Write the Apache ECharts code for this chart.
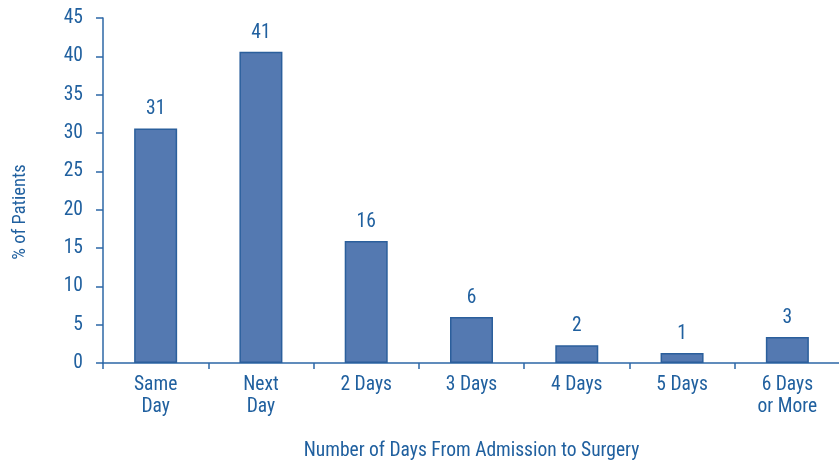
<!DOCTYPE html>
<html>
<head>
<meta charset="utf-8">
<script src="https://cdn.jsdelivr.net/npm/echarts@6/dist/echarts.min.js"></script>
<style>
  html, body { margin: 0; padding: 0; background: #ffffff; }
  #chart { width: 839px; height: 462px; }
</style>
</head>
<body>
<div id="chart"></div>
<script>
// Days from admission to surgery, share of patients (%)
const categories = ['Same\nDay', 'Next\nDay', '2 Days', '3 Days', '4 Days', '5 Days', '6 Days\nor More'];
const percentPatients = [30.6, 40.6, 15.9, 6.0, 2.3, 1.3, 3.4];
const yTicks = { min: 0, max: 45, interval: 5 };

const textColor = '#20609f';
const fontFamily = '"Liberation Sans Narrow", "Roboto Condensed", "Liberation Sans", Arial, sans-serif';
const fontSize = 19.5;

const chart = echarts.init(document.getElementById('chart'), null, { renderer: 'canvas' });

chart.setOption({
  animation: false,
  backgroundColor: '#ffffff',
  grid: { left: 103, right: -1, top: 18, bottom: 99, containLabel: false, outerBoundsMode: 'none' },
  xAxis: {
    type: 'category',
    data: categories,
    name: 'Number of Days From Admission to Surgery',
    nameLocation: 'middle',
    nameGap: 78,
    nameTextStyle: { color: textColor, fontSize: fontSize, fontFamily: fontFamily },
    axisLine: { lineStyle: { color: '#2c67a6', width: 1.5 } },
    axisTick: { show: true, length: 6, lineStyle: { color: '#2c67a6', width: 1.5 } },
    axisLabel: {
      color: textColor, fontSize: fontSize, fontFamily: fontFamily,
      lineHeight: 22, margin: 11, interval: 0
    }
  },
  yAxis: {
    type: 'value',
    min: yTicks.min,
    max: yTicks.max,
    interval: yTicks.interval,
    axisLine: { show: true, lineStyle: { color: '#2c67a6', width: 1.5 } },
    axisTick: { show: true, length: 7, lineStyle: { color: '#2c67a6', width: 1.5 } },
    splitLine: { show: false },
    axisLabel: { color: textColor, fontSize: fontSize, fontFamily: fontFamily, margin: 20 }
  },
  graphic: [{
    type: 'text',
    x: 20,
    y: 212,
    rotation: Math.PI / 2,
    style: {
      text: '% of Patients',
      fill: textColor,
      fontSize: 18.5,
      fontFamily: fontFamily,
      align: 'center',
      verticalAlign: 'middle'
    }
  }],
  series: [{
    type: 'bar',
    data: percentPatients,
    barWidth: 43,
    itemStyle: { color: '#5479b1', borderColor: '#2b5f9c', borderWidth: 1.5 },
    label: {
      show: true,
      position: 'top',
      distance: 9,
      color: textColor,
      fontSize: fontSize,
      fontFamily: fontFamily,
      formatter: p => Math.round(p.value)
    }
  }]
});
</script>
</body>
</html>
